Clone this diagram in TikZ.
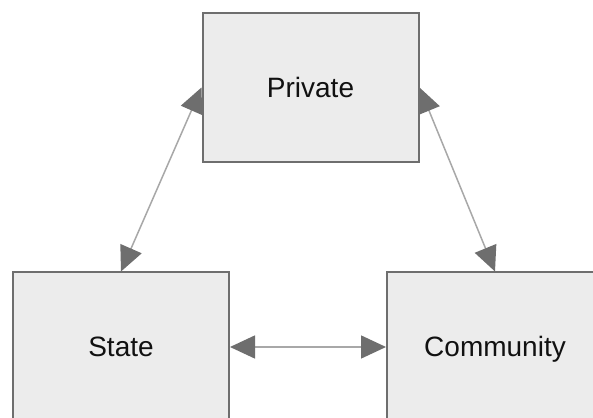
\documentclass[tikz,border=0pt]{standalone}
\usepackage{fontspec}
\setmainfont{Liberation Sans}
\usetikzlibrary{arrows.meta}
\definecolor{boxfill}{HTML}{ECECEC}
\definecolor{boxline}{HTML}{6E6E6E}
\definecolor{linkline}{HTML}{A8A8A8}
\definecolor{tipgray}{HTML}{6E6E6E}
\definecolor{txt}{HTML}{111111}
\tikzset{
  sectorbox/.style={draw=boxline, fill=boxfill, line width=2pt, minimum width=216pt, minimum height=149pt, inner sep=0pt, text height=19.5pt, text depth=0pt, font=\fontsize{28}{30}\selectfont, text=txt},
  link/.style={draw=linkline, line width=1.5pt, {Triangle[length=25pt,width=23pt,color=tipgray]}-{Triangle[length=25pt,width=23pt,color=tipgray]}}
}
\begin{document}
\begin{tikzpicture}[x=1pt,y=1pt]
\useasboundingbox (0,0) rectangle (593,417);
\clip (0,0) rectangle (593,417);
\fill[white] (0,0) rectangle (593,417);
\node[sectorbox] (P) at (310.5,329.5) {Private};
\node[sectorbox] (S) at (121,70) {State};
\node[sectorbox] (C) at (495,70) {Community};
\draw[link] (P.west) -- (S.north);
\draw[link] (P.east) -- (C.north);
\draw[link] (S.east) -- (C.west);
\end{tikzpicture}
\end{document}
